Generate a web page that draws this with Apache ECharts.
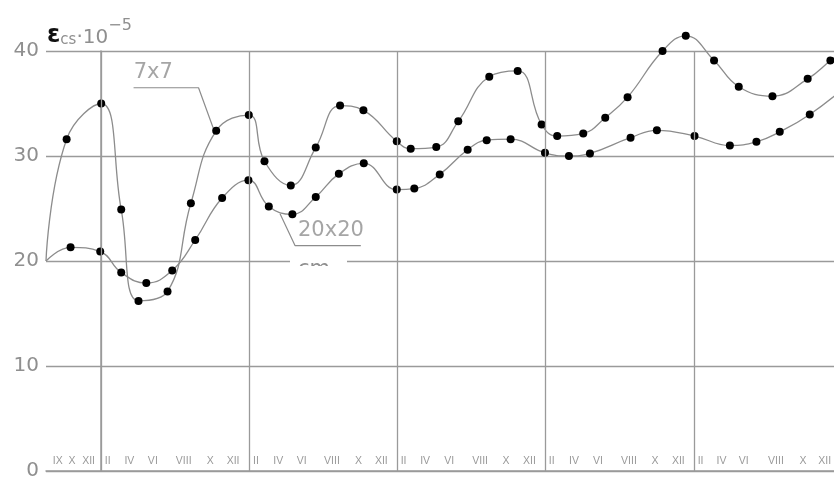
<!DOCTYPE html>
<html>
<head>
<meta charset="utf-8">
<script src="https://cdn.jsdelivr.net/npm/echarts@6/dist/echarts.min.js"></script>
<style>
html,body{margin:0;padding:0;background:#fff;}
#chart{width:834px;height:478px;}
</style>
</head>
<body>
<div id="chart"></div>
<script>
// x values are in months counted from the first January (year boundary = 0, 12, 24 ...)
var upperName = '7x7';
var upperX = [-4.45, -2.78, 0.02, 1.64, 3.04, 5.39, 7.28, 9.33, 11.97, 13.24, 15.37, 17.39, 19.36, 21.25, 23.95, 25.08, 27.15, 28.93, 31.44, 33.74, 35.68, 36.94, 39.05, 40.83, 42.64, 45.47, 47.35, 49.64, 51.64, 54.37, 57.22, 59.06, 60.2];
var upperY = [20.0, 31.6, 35.0, 24.9, 16.2, 17.1, 25.5, 32.4, 33.9, 29.5, 27.2, 30.8, 34.8, 34.35, 31.4, 30.7, 30.85, 33.3, 37.55, 38.1, 33.0, 31.9, 32.15, 33.65, 35.6, 40.0, 41.45, 39.1, 36.6, 35.7, 37.35, 39.1, 40.2];

var lowerName = '20x20';
var lowerX = [-4.45, -2.46, -0.06, 1.64, 3.67, 5.77, 7.63, 9.81, 11.94, 13.59, 15.5, 17.39, 19.26, 21.28, 23.95, 25.37, 27.43, 29.69, 31.23, 33.17, 35.95, 37.89, 39.59, 42.88, 45.01, 48.06, 50.92, 53.07, 54.96, 57.39, 60.3];
var lowerY = [20.0, 21.3, 20.9, 18.9, 17.9, 19.1, 22.0, 26.0, 27.7, 25.2, 24.45, 26.1, 28.3, 29.3, 26.8, 26.9, 28.25, 30.6, 31.5, 31.6, 30.3, 30.0, 30.25, 31.75, 32.45, 31.9, 31.0, 31.35, 32.3, 33.95, 36.6];

// year boundaries (vertical rules)
var yearLines = [0, 12, 24, 36, 48];
// month tick labels
var tickPos = [-3.5, -2.35, -1.0,
  0.55, 2.3, 4.2, 6.7, 8.85, 10.7,
  12.55, 14.35, 16.25, 18.7, 20.85, 22.7,
  24.5, 26.25, 28.2, 30.7, 32.8, 34.7,
  36.5, 38.3, 40.25, 42.75, 44.85, 46.75,
  48.55, 50.25, 52.05, 54.65, 56.85, 58.6];
var tickText = ['IX', 'X', 'XII',
  'II', 'IV', 'VI', 'VIII', 'X', 'XII',
  'II', 'IV', 'VI', 'VIII', 'X', 'XII',
  'II', 'IV', 'VI', 'VIII', 'X', 'XII',
  'II', 'IV', 'VI', 'VIII', 'X', 'XII',
  'II', 'IV', 'VI', 'VIII', 'X', 'XII'];
var yTicks = [0, 10, 20, 30, 40];

// annotation leaders (data coords)
var leader7 = [[2.64, 36.5], [7.9, 36.5], [9.11, 32.6]];
var leader20 = [[14.5, 24.5], [15.72, 21.46], [21.04, 21.46]];
var annot = [{name: '7x7', value: [4.23, 37.93]}, {name: '20x20', value: [18.62, 22.86]}];

var GRID = '#9a9a9a';
var CURVE = '#8c8c8c';
var TXT = '#8f8f8f';
var FONT = 'DejaVu Sans';

function pts(xs, ys) {
  return xs.map(function (x, i) {
    var d = {value: [x, ys[i]]};
    if (i === 0) d.symbol = 'none';
    return d;
  });
}
var labelMap = {};
tickPos.forEach(function (p, i) { labelMap[String(p)] = tickText[i]; });

var chart = echarts.init(document.getElementById('chart'), null, {renderer: 'canvas'});
var option = {
  animation: false,
  backgroundColor: '#fff',
  grid: {left: 46, right: -8, top: 51, bottom: 7, containLabel: false, outerBoundsMode: 'none'},
  xAxis: {
    type: 'value', min: -4.45, max: 60,
    axisLine: {show: true, lineStyle: {color: GRID, width: 1.5}},
    axisTick: {show: false},
    splitLine: {show: false},
    axisLabel: {
      inside: true, margin: 4,
      customValues: tickPos,
      formatter: function (v) { return labelMap[String(v)] || ''; },
      fontFamily: 'Liberation Sans', fontSize: 10.5, color: '#9a9a9a'
    }
  },
  yAxis: {
    type: 'value', min: 0, max: 40, interval: 10,
    axisLine: {show: true, lineStyle: {color: GRID, width: 1.5}},
    axisTick: {show: false},
    splitLine: {show: true, lineStyle: {color: GRID, width: 1.3}},
    axisLabel: {margin: 7, fontFamily: FONT, fontSize: 20, color: TXT}
  },
  series: [
    {
      name: upperName, type: 'line', data: pts(upperX, upperY), smooth: 0.45,
      clip: false, symbol: 'circle', symbolSize: 8,
      itemStyle: {color: '#000'}, lineStyle: {color: CURVE, width: 1.3},
      markLine: {
        silent: true, symbol: 'none', label: {show: false},
        lineStyle: {color: GRID, width: 1.3, type: 'solid'},
        data: yearLines.map(function (x) { return {xAxis: x}; })
      },
      z: 3
    },
    {
      name: lowerName, type: 'line', data: pts(lowerX, lowerY), smooth: 0.45,
      clip: true, symbol: 'circle', symbolSize: 8,
      itemStyle: {color: '#000'}, lineStyle: {color: CURVE, width: 1.3}, z: 3
    },
    {
      type: 'line', data: leader7, symbol: 'none', silent: true,
      lineStyle: {color: CURVE, width: 1.2}, z: 2
    },
    {
      type: 'line', data: leader20, symbol: 'none', silent: true,
      lineStyle: {color: CURVE, width: 1.2}, z: 2
    },
    {
      type: 'scatter', data: annot, symbolSize: 0, silent: true,
      label: {show: true, position: 'inside', formatter: '{b}', fontFamily: FONT, fontSize: 21, color: TXT}
    }
  ],
  graphic: [
    {
      type: 'text', left: 47, top: 18, silent: true,
      style: {
        text: '{e|ε}{c|cs}{d|·10}{s|−5}',
        rich: {
          e: {fontFamily: FONT, fontSize: 24, fontWeight: 'bold', fill: '#111', verticalAlign: 'bottom', lineHeight: 30},
          c: {fontFamily: FONT, fontSize: 15, fill: TXT, verticalAlign: 'bottom', lineHeight: 27},
          d: {fontFamily: FONT, fontSize: 20, fill: TXT, verticalAlign: 'bottom', lineHeight: 30},
          s: {fontFamily: FONT, fontSize: 16, fill: TXT, verticalAlign: 'top', lineHeight: 30}
        }
      }
    },
    {type: 'rect', silent: true, shape: {x: 290, y: 257, width: 57, height: 6}, style: {fill: '#fff'}, z: 10},
    {type: 'text', silent: true, x: 298, y: 259, style: {text: 'cm', fontFamily: FONT, fontSize: 21, fill: TXT}, z: 11},
    {type: 'rect', silent: true, shape: {x: 290, y: 266, width: 57, height: 20}, style: {fill: '#fff'}, z: 12}
  ]
};
chart.setOption(option);
</script>
</body>
</html>
